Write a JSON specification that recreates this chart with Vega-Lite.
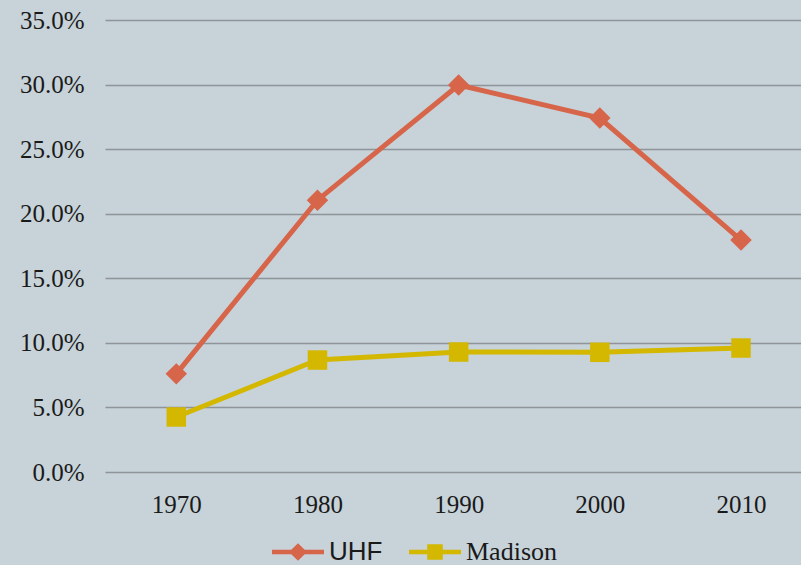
{
  "$schema": "https://vega.github.io/schema/vega-lite/v6.json",
  "width": 696,
  "height": 452,
  "autosize": {"type": "none"},
  "padding": {"left": 105, "top": 20, "right": 0, "bottom": 93},
  "background": "#c7d2d9",
  "config": {
    "view": {"stroke": null},
    "font": "Liberation Serif"
  },
  "data": {
    "values": [
      {"year": 1970, "series": "UHF", "value": 0.076},
      {"year": 1980, "series": "UHF", "value": 0.2105},
      {"year": 1990, "series": "UHF", "value": 0.2997},
      {"year": 2000, "series": "UHF", "value": 0.2741},
      {"year": 2010, "series": "UHF", "value": 0.1796},
      {"year": 1970, "series": "Madison", "value": 0.0426},
      {"year": 1980, "series": "Madison", "value": 0.0867},
      {"year": 1990, "series": "Madison", "value": 0.0929},
      {"year": 2000, "series": "Madison", "value": 0.0927},
      {"year": 2010, "series": "Madison", "value": 0.096}
    ]
  },
  "encoding": {
    "x": {
      "field": "year", "type": "quantitative",
      "scale": {"domain": [1964.95, 2014.25], "nice": false, "zero": false},
      "axis": {"title": null, "format": "d", "values": [1970, 1980, 1990, 2000, 2010], "labelAngle": 0,
               "domain": false, "ticks": false, "grid": false,
               "labelFont": "Liberation Serif", "labelFontSize": 25, "labelColor": "#1a1a1a", "labelPadding": 20}
    },
    "y": {
      "field": "value", "type": "quantitative",
      "scale": {"domain": [0, 0.35], "nice": false},
      "axis": {"title": null, "format": ".1%", "values": [0, 0.05, 0.1, 0.15, 0.2, 0.25, 0.3, 0.35],
               "domain": false, "ticks": false, "grid": true, "gridColor": "#8f9498", "gridWidth": 1.5,
               "labelFont": "Liberation Serif", "labelFontSize": 25, "labelColor": "#1a1a1a", "labelPadding": 21}
    },
    "color": {
      "field": "series", "type": "nominal",
      "scale": {"domain": ["UHF", "Madison"], "range": ["#d6654a", "#d4b800"]},
      "legend": {
        "title": null, "orient": "none", "direction": "horizontal",
        "legendX": 167, "legendY": 506,
        "symbolSize": 2704, "labelFontSize": 26, "labelFont": "Liberation Serif", "labelColor": "#1a1a1a",
        "labelOffset": 5, "columnPadding": 26,
        "encode": {
          "symbols": {"update": {
            "shape": {"signal": "datum.value === 'UHF' ? 'M-1,-0.09L-0.26,-0.09L0,-0.34L0.26,-0.09L1,-0.09L1,0.09L0.26,0.09L0,0.34L-0.26,0.09L-1,0.09Z' : 'M-1,-0.09L-0.3,-0.09L-0.3,-0.3L0.3,-0.3L0.3,-0.09L1,-0.09L1,0.09L0.3,0.09L0.3,0.3L-0.3,0.3L-0.3,0.09L-1,0.09Z'"},
            "fill": {"signal": "datum.value === 'UHF' ? '#d6654a' : '#d4b800'"},
            "stroke": {"value": "transparent"},
            "strokeWidth": {"value": 0},
            "opacity": {"value": 1}
          }},
          "labels": {"update": {
            "font": {"signal": "datum.value === 'UHF' ? 'Liberation Sans' : 'Liberation Serif'"}
          }}
        }
      }
    }
  },
  "layer": [
    {"mark": {"type": "line", "strokeWidth": 5}, "encoding": {"detail": {"field": "series"}}},
    {
      "transform": [{"filter": "datum.series === 'UHF'"}],
      "mark": {"type": "point", "filled": true, "opacity": 1, "shape": "diamond", "size": 460}
    },
    {
      "transform": [{"filter": "datum.series === 'Madison'"}],
      "mark": {"type": "point", "filled": true, "opacity": 1, "shape": "square", "size": 380}
    }
  ]
}
